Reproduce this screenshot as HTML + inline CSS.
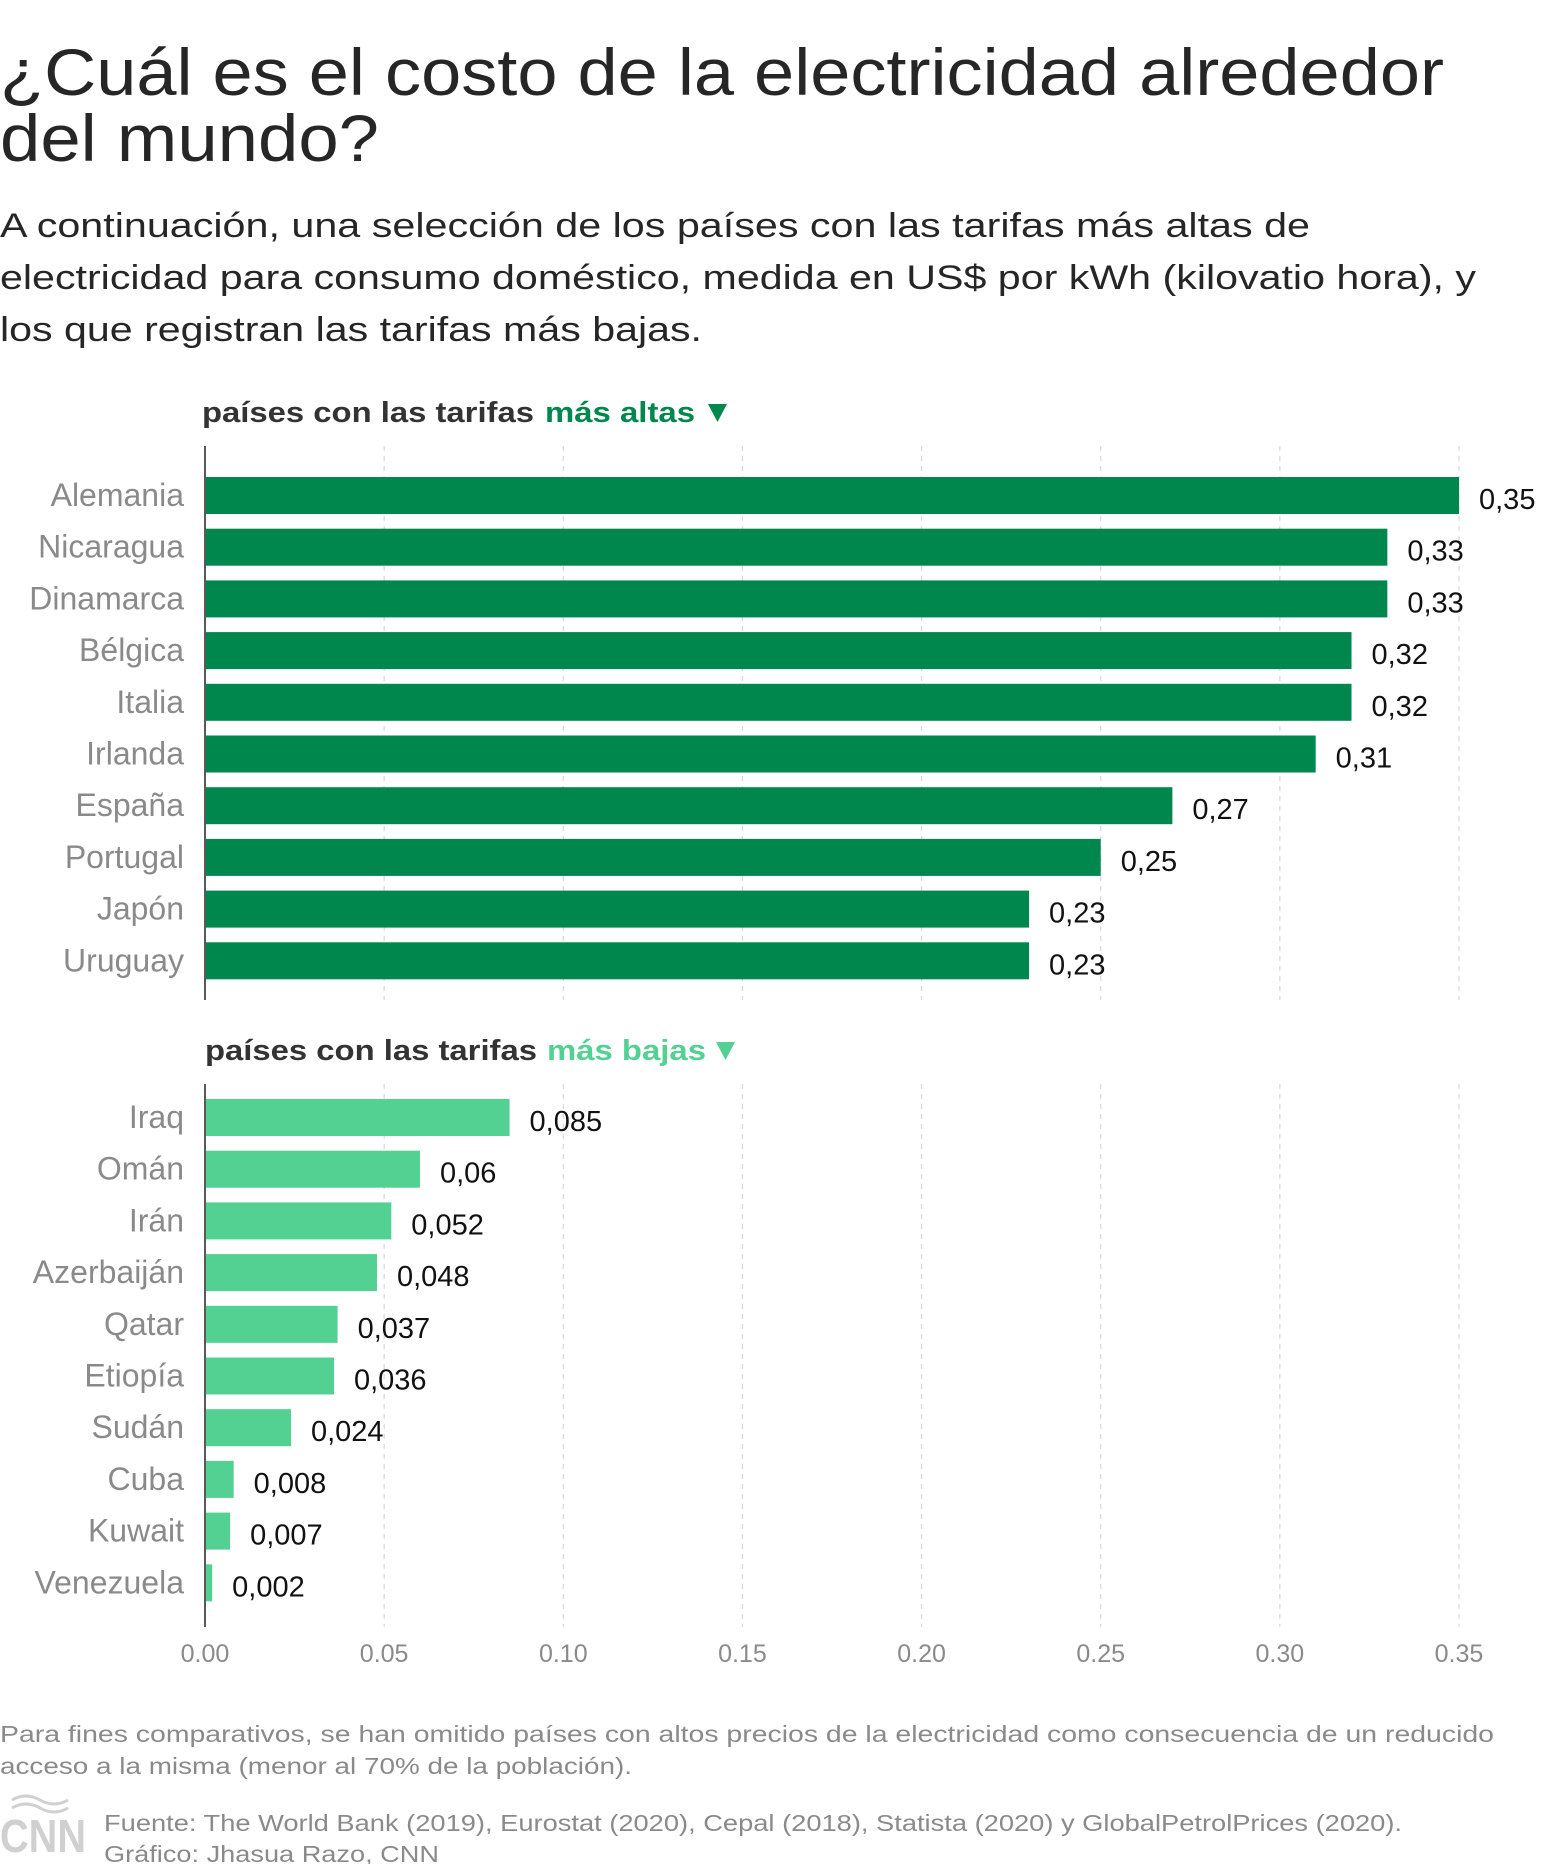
<!DOCTYPE html>
<html><head><meta charset="utf-8"><style>
html,body{margin:0;padding:0;background:#fff;}
svg{display:block;font-family:"Liberation Sans",sans-serif;}
</style></head><body>
<svg id="chart" width="1560" height="1864" viewBox="0 0 1560 1864">
<text x="0" y="95" font-size="66" fill="#262626" textLength="1444" lengthAdjust="spacingAndGlyphs">¿Cuál es el costo de la electricidad alrededor</text>
<text x="0" y="161" font-size="66" fill="#262626" textLength="379" lengthAdjust="spacingAndGlyphs">del mundo?</text>
<text x="0" y="237" font-size="34" fill="#262626" textLength="1310" lengthAdjust="spacingAndGlyphs">A continuación, una selección de los países con las tarifas más altas de</text>
<text x="0" y="289" font-size="34" fill="#262626" textLength="1476" lengthAdjust="spacingAndGlyphs">electricidad para consumo doméstico, medida en US$ por kWh (kilovatio hora), y</text>
<text x="0" y="341" font-size="34" fill="#262626" textLength="702" lengthAdjust="spacingAndGlyphs">los que registran las tarifas más bajas.</text>

<text x="202" y="422" font-size="29" font-weight="bold" fill="#333" textLength="332" lengthAdjust="spacingAndGlyphs">países con las tarifas</text>
<text x="545" y="422" font-size="29" font-weight="bold" fill="#00874e" textLength="150" lengthAdjust="spacingAndGlyphs">más altas</text>
<polygon points="708,404 727,404 717.5,422" fill="#00874e"/>
<text x="205" y="1060" font-size="29" font-weight="bold" fill="#333" textLength="332" lengthAdjust="spacingAndGlyphs">países con las tarifas</text>
<text x="547" y="1060" font-size="29" font-weight="bold" fill="#52d193" textLength="159" lengthAdjust="spacingAndGlyphs">más bajas</text>
<polygon points="716,1042 735,1042 725.5,1060" fill="#52d193"/>

<g id="grid"></g>
<g id="bars"></g>

<text x="0" y="1742" font-size="23" fill="#8a8a8a" textLength="1494" lengthAdjust="spacingAndGlyphs">Para fines comparativos, se han omitido países con altos precios de la electricidad como consecuencia de un reducido</text>
<text x="0" y="1774" font-size="23" fill="#8a8a8a" textLength="632" lengthAdjust="spacingAndGlyphs">acceso a la misma (menor al 70% de la población).</text>
<g>
<text x="0" y="1852" font-size="46" font-weight="bold" fill="#d0d0d0" textLength="86" lengthAdjust="spacingAndGlyphs">CNN</text>
<path d="M12,1800 q14,-8 28,0 t28,0 M12,1808 q14,-8 28,0 t28,0" stroke="#d0d0d0" stroke-width="3" fill="none"/>
</g>
<text x="104" y="1831" font-size="23" fill="#8a8a8a" textLength="1298" lengthAdjust="spacingAndGlyphs">Fuente: The World Bank (2019), Eurostat (2020), Cepal (2018), Statista (2020) y GlobalPetrolPrices (2020).</text>
<text x="104" y="1862" font-size="23" fill="#8a8a8a" textLength="335" lengthAdjust="spacingAndGlyphs">Gráfico: Jhasua Razo, CNN</text>
</svg>
<script>
const highCountries = ["Alemania","Nicaragua","Dinamarca","Bélgica","Italia","Irlanda","España","Portugal","Japón","Uruguay"];
const highValues = [0.35,0.33,0.33,0.32,0.32,0.31,0.27,0.25,0.23,0.23];
const highLabels = ["0,35","0,33","0,33","0,32","0,32","0,31","0,27","0,25","0,23","0,23"];
const lowCountries = ["Iraq","Omán","Irán","Azerbaiján","Qatar","Etiopía","Sudán","Cuba","Kuwait","Venezuela"];
const lowValues = [0.085,0.06,0.052,0.048,0.037,0.036,0.024,0.008,0.007,0.002];
const lowLabels = ["0,085","0,06","0,052","0,048","0,037","0,036","0,024","0,008","0,007","0,002"];
const ticks = [0,0.05,0.10,0.15,0.20,0.25,0.30,0.35];
const tickLabels = ["0.00","0.05","0.10","0.15","0.20","0.25","0.30","0.35"];

const NS="http://www.w3.org/2000/svg";
const X0=205, X1=1459, XMAX=0.35;
const xs=v=>X0+(v/XMAX)*(X1-X0);
function mk(tag,attrs,parent,text){const e=document.createElementNS(NS,tag);for(const k in attrs)e.setAttribute(k,attrs[k]);if(text!==undefined)e.textContent=text;parent.appendChild(e);return e;}
const grid=document.getElementById('grid'), bars=document.getElementById('bars');
ticks.forEach((t,i)=>{
  if(i>0){
    const l1=mk('line',{x1:xs(t),x2:xs(t),y1:446,y2:1000,stroke:'#d8d8d8','stroke-width':1.2,'stroke-dasharray':'5,5'},grid);
    
    
    const l2=mk('line',{x1:xs(t),x2:xs(t),y1:1084,y2:1627,stroke:'#d8d8d8','stroke-width':1.2,'stroke-dasharray':'5,5'},grid);
    
    
  }
  const tl=mk('text',{x:xs(t),y:1662,'font-size':25,fill:'#8a8a8a','text-anchor':'middle'},grid,tickLabels[i]);
  
  
});
function drawPanel(names,vals,labels,top,color,axisTop,axisBot){
  const ax=mk('line',{x1:X0,x2:X0,y1:axisTop,y2:axisBot,stroke:'#222','stroke-width':1.5},bars);
  
  
  names.forEach((n,i)=>{
    const y=top+i*51.7;
    const r=mk('rect',{x:X0+1,y:y,width:Math.max(xs(vals[i])-X0-1,1),height:37,fill:color},bars);
    
    
    const c=mk('text',{x:184,y:y+29,'font-size':32,fill:'#8a8a8a','text-anchor':'end'},bars,n);
    
    
    const v=mk('text',{x:xs(vals[i])+20,y:y+32,'font-size':29,fill:'#111'},bars,labels[i]);
    
    
  });
}
drawPanel(highCountries,highValues,highLabels,477,'#00874e',446,1000);
drawPanel(lowCountries,lowValues,lowLabels,1099,'#52d193',1084,1627);
</script>
</body></html>
